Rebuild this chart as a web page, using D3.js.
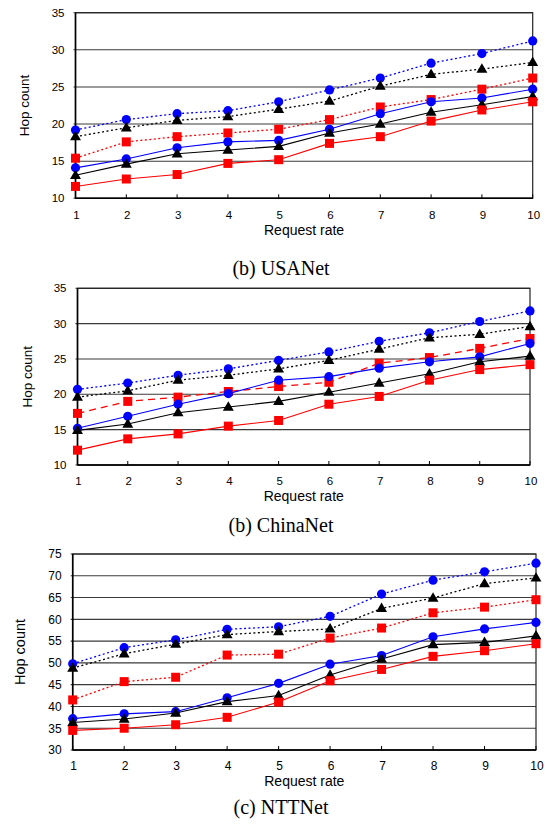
<!DOCTYPE html>
<html>
<head>
<meta charset="utf-8">
<script src="https://cdn.jsdelivr.net/npm/d3@7"></script>
<style>
  html, body { margin: 0; padding: 0; background: #fff; }
  svg { display: block; }
</style>
</head>
<body>
<svg id="chart" width="545" height="828"></svg>
<script>
// ---------- DATA ----------
const requestRates = [1, 2, 3, 4, 5, 6, 7, 8, 9, 10];

const usaYTicks = [10, 15, 20, 25, 30, 35];
const usaCircleDotted   = [19.2, 20.6, 21.4, 21.8, 23.0, 24.6, 26.2, 28.2, 29.5, 31.2];
const usaTriangleDotted = [18.3, 19.5, 20.5, 21.0, 22.0, 23.1, 25.1, 26.7, 27.4, 28.3];
const usaSquareDotted   = [15.4, 17.6, 18.3, 18.8, 19.3, 20.6, 22.3, 23.3, 24.7, 26.2];
const usaCircleSolid    = [14.1, 15.3, 16.8, 17.6, 17.8, 19.3, 21.4, 23.0, 23.5, 24.7];
const usaTriangleSolid  = [13.1, 14.6, 16.0, 16.5, 17.0, 18.8, 20.0, 21.6, 22.6, 23.7];
const usaSquareSolid    = [11.6, 12.6, 13.2, 14.7, 15.2, 17.4, 18.3, 20.4, 21.9, 23.0];

const chinaYTicks = [10, 15, 20, 25, 30, 35];
const chinaCircleDotted   = [20.7, 21.6, 22.7, 23.6, 24.8, 26.0, 27.5, 28.7, 30.3, 31.8];
const chinaTriangleDotted = [19.6, 20.5, 22.0, 22.7, 23.6, 24.8, 26.4, 28.0, 28.5, 29.6];
const chinaSquareDashed   = [17.3, 19.0, 19.6, 20.4, 21.1, 21.7, 24.4, 25.2, 26.5, 27.9];
const chinaCircleSolid    = [15.2, 16.9, 18.6, 20.1, 22.0, 22.5, 23.7, 24.6, 25.3, 27.2];
const chinaTriangleSolid  = [14.9, 15.8, 17.4, 18.2, 19.0, 20.3, 21.6, 22.9, 24.6, 25.4];
const chinaSquareSolid    = [12.1, 13.7, 14.4, 15.5, 16.3, 18.6, 19.7, 22.0, 23.5, 24.2];

const nttYTicks = [30, 35, 40, 45, 50, 55, 60, 65, 70, 75];
const nttCircleDotted   = [49.8, 53.5, 55.3, 57.7, 58.3, 60.7, 65.8, 69.0, 70.9, 72.9];
const nttTriangleDotted = [48.8, 52.1, 54.3, 56.5, 57.2, 57.8, 62.5, 64.9, 68.2, 69.5];
const nttSquareDotted   = [41.5, 45.7, 46.7, 51.8, 52.0, 55.7, 58.0, 61.5, 62.8, 64.5];
const nttCircleSolid    = [37.2, 38.3, 38.8, 42.0, 45.3, 49.7, 51.7, 56.0, 57.8, 59.3];
const nttTriangleSolid  = [36.3, 37.1, 38.5, 41.1, 42.5, 47.2, 50.9, 54.2, 54.7, 56.2];
const nttSquareSolid    = [34.5, 35.0, 35.8, 37.5, 41.0, 45.9, 48.5, 51.5, 52.8, 54.4];

const panelTitles = ["(b) USANet", "(b) ChinaNet", "(c) NTTNet"];
const xAxisTitle = "Request rate";
const yAxisTitle = "Hop count";

// ---------- STYLES / LAYOUT ----------
const BLUE = "#0000ff", BLACK = "#000000", RED = "#ff0000";
const DOT = "2,2.5", DASH = "7,5";

function seriesList(cd, td, sd, cs, ts, ss, redDash) {
  return [
    { values: cd, color: BLUE,  dash: DOT,  shape: "circle" },
    { values: td, color: BLACK, dash: DOT,  shape: "triangle" },
    { values: sd, color: RED,   dash: redDash, shape: "square" },
    { values: cs, color: BLUE,  dash: null, shape: "circle" },
    { values: ts, color: BLACK, dash: null, shape: "triangle" },
    { values: ss, color: RED,   dash: null, shape: "square" }
  ];
}

const panels = [
  { left: 75.5, right: 532.7, top: 12.7, bottom: 198.3, yTicks: usaYTicks,
    tickFont: 11.5, yTitleFont: 13.5, yTitleX: 24,
    tickBase: 219, xTitleBase: 235, titleBase: 275,
    series: seriesList(usaCircleDotted, usaTriangleDotted, usaSquareDotted,
                       usaCircleSolid, usaTriangleSolid, usaSquareSolid, DOT) },
  { left: 77.5, right: 530, top: 288.3, bottom: 465, yTicks: chinaYTicks,
    tickFont: 11.5, yTitleFont: 13.5, yTitleX: 27,
    tickBase: 485, xTitleBase: 501, titleBase: 532,
    series: seriesList(chinaCircleDotted, chinaTriangleDotted, chinaSquareDashed,
                       chinaCircleSolid, chinaTriangleSolid, chinaSquareSolid, DASH) },
  { left: 72.7, right: 536, top: 554, bottom: 750, yTicks: nttYTicks,
    tickFont: 12, yTitleFont: 14.5, yTitleX: 20,
    tickBase: 770, xTitleBase: 786, titleBase: 814,
    series: seriesList(nttCircleDotted, nttTriangleDotted, nttSquareDotted,
                       nttCircleSolid, nttTriangleSolid, nttSquareSolid, DOT) }
];

const svg = d3.select("#chart");
const SANS = "'Liberation Sans', Arial, sans-serif";
const SERIF = "'Liberation Serif', 'Times New Roman', serif";

panels.forEach((p, i) => {
  const yExt = d3.extent(p.yTicks);
  const x = d3.scaleLinear().domain([1, 10]).range([p.left, p.right]);
  const y = d3.scaleLinear().domain(yExt).range([p.bottom, p.top]);
  const g = svg.append("g");

  // gridlines
  g.selectAll("line.grid").data(p.yTicks).enter().append("line")
    .attr("class", "grid")
    .attr("x1", p.left - 2).attr("x2", p.right)
    .attr("y1", d => y(d)).attr("y2", d => y(d))
    .attr("stroke", "#3a3a3a").attr("stroke-width", 1.1);

  // frame
  g.append("rect")
    .attr("x", p.left).attr("y", p.top)
    .attr("width", p.right - p.left).attr("height", p.bottom - p.top)
    .attr("fill", "none").attr("stroke", "#222").attr("stroke-width", 1.2);
  g.append("line")
    .attr("x1", p.left).attr("x2", p.left).attr("y1", p.top).attr("y2", p.bottom)
    .attr("stroke", "#000").attr("stroke-width", 1.6);
  g.append("line")
    .attr("x1", p.left).attr("x2", p.right).attr("y1", p.bottom).attr("y2", p.bottom)
    .attr("stroke", "#000").attr("stroke-width", 1.6);

  // x ticks (inside)
  g.selectAll("line.xt").data(requestRates).enter().append("line")
    .attr("x1", d => x(d)).attr("x2", d => x(d))
    .attr("y1", p.bottom).attr("y2", p.bottom - 4)
    .attr("stroke", "#000").attr("stroke-width", 1);

  // x tick labels
  g.selectAll("text.xl").data(requestRates).enter().append("text")
    .attr("x", d => x(d) + 1).attr("y", p.tickBase)
    .attr("text-anchor", "middle")
    .attr("font-family", SANS).attr("font-size", p.tickFont)
    .text(d => d);

  // y tick labels
  g.selectAll("text.yl").data(p.yTicks).enter().append("text")
    .attr("x", p.left - 11).attr("y", d => y(d) + p.tickFont * 0.36)
    .attr("text-anchor", "end")
    .attr("font-family", SANS).attr("font-size", p.tickFont)
    .text(d => d);

  // axis titles
  g.append("text")
    .attr("x", (p.left + p.right) / 2).attr("y", p.xTitleBase)
    .attr("text-anchor", "middle")
    .attr("font-family", SANS).attr("font-size", 14)
    .text(xAxisTitle);
  g.append("text")
    .attr("transform", `translate(${p.yTitleX},${(p.top + p.bottom) / 2}) rotate(-90)`)
    .attr("text-anchor", "middle").attr("dominant-baseline", "central")
    .attr("font-family", SANS).attr("font-size", p.yTitleFont)
    .text(yAxisTitle);

  // panel title
  g.append("text")
    .attr("x", 281).attr("y", p.titleBase)
    .attr("text-anchor", "middle")
    .attr("font-family", SERIF).attr("font-size", 20)
    .text(panelTitles[i]);

  // series lines
  const line = d3.line().x((d, j) => x(requestRates[j])).y(d => y(d));
  p.series.forEach(s => {
    g.append("path")
      .attr("d", line(s.values))
      .attr("fill", "none")
      .attr("stroke", s.color)
      .attr("stroke-width", s.dash ? 1.3 : 1.1)
      .attr("stroke-dasharray", s.dash);
  });

  // markers
  const tri = d3.symbol().type(d3.symbolTriangle).size(52);
  p.series.forEach(s => {
    const mg = g.append("g");
    s.values.forEach((v, j) => {
      const cx = x(requestRates[j]), cy = y(v);
      if (s.shape === "circle") {
        mg.append("circle").attr("cx", cx).attr("cy", cy).attr("r", 4.6)
          .attr("fill", s.color);
      } else if (s.shape === "square") {
        mg.append("rect").attr("x", cx - 4.5).attr("y", cy - 4.5)
          .attr("width", 9).attr("height", 9).attr("fill", s.color);
      } else {
        mg.append("path").attr("d", tri())
          .attr("transform", `translate(${cx},${cy + 0.5})`)
          .attr("fill", s.color);
      }
    });
  });
});
</script>
</body>
</html>
